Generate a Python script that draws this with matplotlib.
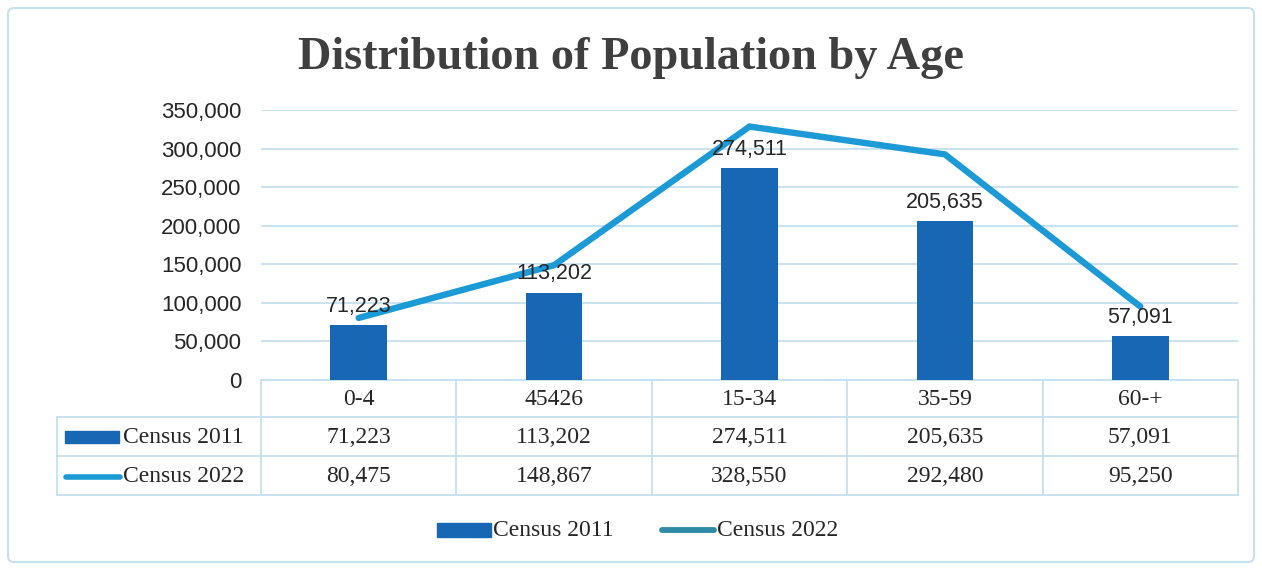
import matplotlib
matplotlib.use("Agg")
import matplotlib.pyplot as plt
from matplotlib.patches import FancyBboxPatch, Rectangle
from matplotlib.lines import Line2D
from matplotlib.transforms import blended_transform_factory
from matplotlib.ticker import FuncFormatter

# Data
age_groups = ["0-4", "45426", "15-34", "35-59", "60-+"]
census_2011 = [71223, 113202, 274511, 205635, 57091]
census_2022 = [80475, 148867, 328550, 292480, 95250]
series_names = ["Census 2011", "Census 2022"]
title = "Distribution of Population by Age"

W, H = 1262, 568
BAR_C = "#1767b5"
LINE_C = "#1b9ad6"
LEG_LINE_C = "#2e8aa5"
GRID_C = "#c4e1ef"
TEXT_C = "#262626"
SERIF = "Liberation Serif"
SANS = "Liberation Sans"

fig = plt.figure(figsize=(W / 100, H / 100), dpi=100)
fig.patch.set_facecolor("white")

# Overlay in pixel coordinates for frame, table grid and legend
ov = fig.add_axes([0, 0, 1, 1])
ov.set_xlim(0, W)
ov.set_ylim(H, 0)
ov.axis("off")
ov.set_zorder(0)

# Main plotting area (pixel box: x 261..1238, y 110..380)
px_l, px_r, px_t, px_b = 261, 1238, 110, 380
ax = fig.add_axes([px_l / W, 1 - px_b / H, (px_r - px_l) / W, (px_b - px_t) / H])
ax.set_zorder(1)
ax.patch.set_alpha(0)
x = list(range(len(age_groups)))
ax.set_xlim(-0.5, len(age_groups) - 0.5)
ax.set_ylim(0, 350000)
ax.set_yticks(range(0, 350001, 50000))
ax.yaxis.set_major_formatter(FuncFormatter(lambda v, p: f"{int(v):,}"))
ax.tick_params(axis="y", length=0, pad=14, labelsize=16, labelcolor=TEXT_C)
for lab in ax.get_yticklabels():
    lab.set_fontfamily(SANS)
ax.set_xticks([])
for s in ax.spines.values():
    s.set_visible(False)
ax.grid(axis="y", color=GRID_C, lw=1.3)
ax.set_axisbelow(True)

ax.bar(x, census_2011, width=0.29, color=BAR_C, zorder=2)
ax.plot(x, census_2022, color=LINE_C, lw=4.6, solid_capstyle="round",
        solid_joinstyle="miter", zorder=3)
for xi, v in zip(x, census_2011):
    ax.annotate(f"{v:,}", (xi, v), xytext=(0, 6), textcoords="offset points",
                ha="center", va="bottom", fontsize=15.5, family=SANS,
                color=TEXT_C, zorder=4)

# Title
fig.text(0.5, 1 - 58 / H, title, ha="center", va="center", fontsize=33.3,
         family=SERIF, fontweight="bold", color="#3f3f3f")

# Outer frame
ov.add_patch(FancyBboxPatch((8, 8), W - 16, H - 14,
                            boxstyle="round,pad=0,rounding_size=6",
                            fill=False, ec="#c6e2ef", lw=1.5))

# Data table
tr = blended_transform_factory(ax.transData, ov.transData)
row_y = [380, 417, 456, 495]
tab_l = 57
ov.plot([px_l, px_r], [row_y[0]] * 2, color=GRID_C, lw=1.3)
for yy in row_y[1:]:
    ov.plot([tab_l, px_r], [yy, yy], color=GRID_C, lw=1.3)
ov.plot([tab_l, tab_l], [row_y[1], row_y[3]], color=GRID_C, lw=1.3)
for i in range(len(age_groups) + 1):
    ov.plot([i - 0.5, i - 0.5], [row_y[0], row_y[3]], color=GRID_C, lw=1.3,
            transform=tr)

cell_fs = 17
for i, lab in enumerate(age_groups):
    ov.text(i, (row_y[0] + row_y[1]) / 2 + 1, lab, transform=tr, ha="center",
            va="center", fontsize=cell_fs, family=SERIF, color=TEXT_C)
for r, vals in enumerate([census_2011, census_2022]):
    yc = (row_y[r + 1] + row_y[r + 2]) / 2 + 1
    for i, v in enumerate(vals):
        ov.text(i, yc, f"{v:,}", transform=tr, ha="center", va="center",
                fontsize=cell_fs, family=SERIF, color=TEXT_C)
    ov.text(123, yc, series_names[r], ha="left", va="center",
            fontsize=cell_fs, family=SERIF, color=TEXT_C)

# Row keys
yc1 = (row_y[1] + row_y[2]) / 2
ov.add_patch(Rectangle((65, yc1 - 6), 54, 12, color=BAR_C))
yc2 = (row_y[2] + row_y[3]) / 2
ov.add_line(Line2D([66, 120], [yc2 + 1, yc2 + 1], color=LINE_C, lw=4,
                   solid_capstyle="round"))

# Bottom legend
ly = 530
ov.add_patch(Rectangle((437, ly - 7), 54, 14, color=BAR_C))
ov.text(493, ly, series_names[0], ha="left", va="center", fontsize=cell_fs,
        family=SERIF, color=TEXT_C)
ov.add_line(Line2D([662, 714], [ly, ly], color=LEG_LINE_C, lw=4.2,
                   solid_capstyle="round"))
ov.text(717, ly, series_names[1], ha="left", va="center", fontsize=cell_fs,
        family=SERIF, color=TEXT_C)

fig.savefig("out.png", dpi=100, facecolor="white")
